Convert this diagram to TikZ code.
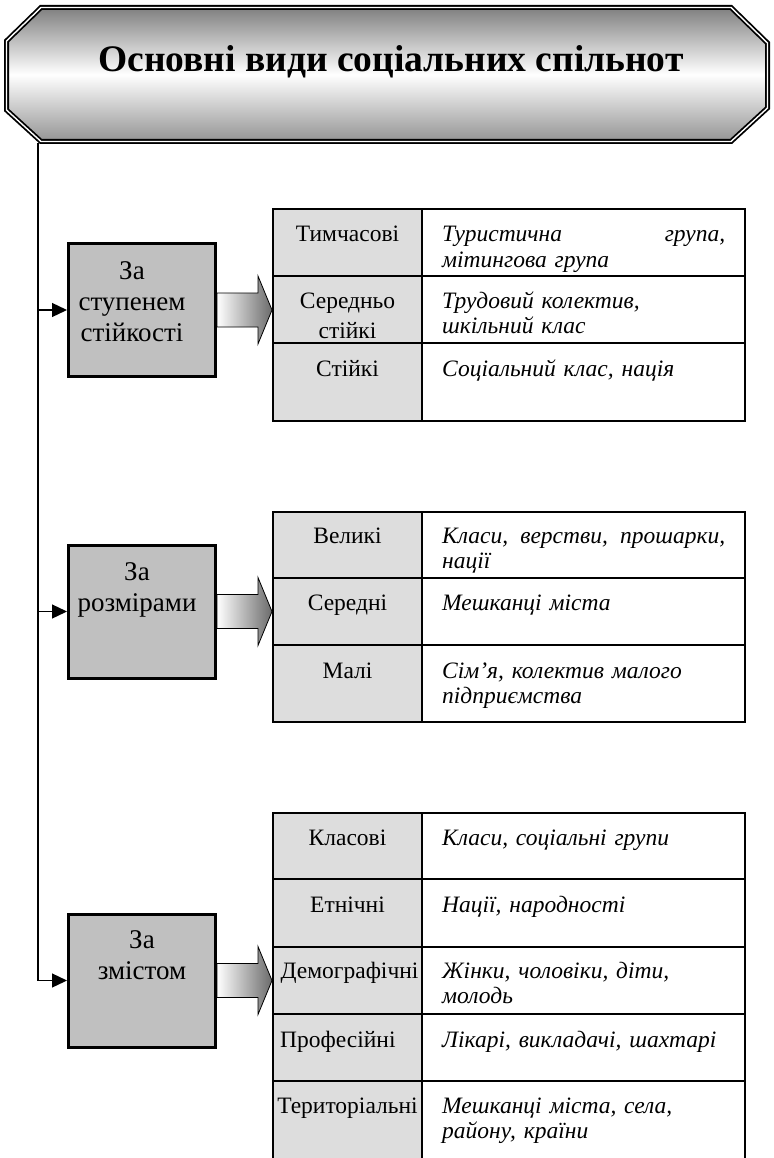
\documentclass[tikz,border=0pt]{standalone}
\usepackage{fontspec}
\setmainfont{Liberation Serif}
\usetikzlibrary{arrows.meta, calc, positioning}

\definecolor{boxgray}{HTML}{C0C0C0}
\definecolor{cellgray}{HTML}{DDDDDD}

\tikzset{
  banner/.style={line width=1.8pt, double=white, double distance=1.4pt,
                 top color=black!50, bottom color=black!42, middle color=white},
  critbox/.style={draw, line width=3pt, fill=boxgray, minimum width=147pt,
                  minimum height=133pt, inner sep=0pt},
  crittext/.style={font=\fontsize{27}{31}\selectfont, text width=150pt, align=center,
                   anchor=base, inner sep=0pt},
  catcell/.style={draw, line width=1.6pt, fill=cellgray, minimum width=149pt,
                  inner sep=0pt, outer sep=0pt},
  desccell/.style={draw, line width=1.6pt, minimum width=323pt,
                   inner sep=0pt, outer sep=0pt},
  cattext/.style={font=\fontsize{23.5}{26}\selectfont, text width=149pt, align=center,
                  anchor=base, inner sep=0pt},
  desctext/.style={font=\fontsize{23.5}{25.5}\selectfont\itshape,
                   text width=283pt, align=left, anchor=base west, inner sep=0pt},
  feed/.style={line width=1.3pt, -{Triangle[length=15pt,width=14pt]}},
  blockarrow/.style={draw, line width=0.8pt, left color=white, right color=black!58}
}

\begin{document}
\begin{tikzpicture}[x=1pt, y=-1pt]
\useasboundingbox (0,0) rectangle (773,1158);

% heading
\draw[banner] (41,7.5) -- (731,7.5) -- (767.5,43) -- (767.5,108) -- (731,141.5)
  -- (41,141.5) -- (6.5,110) -- (6.5,41) -- cycle;
\node[font=\fontsize{37.5}{44}\selectfont\bfseries, anchor=base] (title) at (391,72)
  {Основні види соціальних спільнот};
\coordinate (trunk) at (38,143.5);

% criteria
\node[critbox] (st) at (142,310) {};
\node[critbox] (rz) at (142,611.5) {};
\node[critbox] (zm) at (142,980.5) {};
\node[crittext] (stl) at ($(st.north)+(-10,37)$) {За\\ступенем\\стійкості};
\node[crittext] (rzl) at ($(rz.north)+(-5,37)$) {За\\розмірами};
\node[crittext] (zml) at ($(zm.north)+(0,36)$) {За\\змістом};

\draw[feed] (trunk) |- (zm.west);
\draw[feed] (trunk |- st.west) -- (st.west);
\draw[feed] (trunk |- rz.west) -- (rz.west);

% table: stability
\node[catcell, minimum height=67pt, anchor=north west] (st1) at (273,209) {};
\node[desccell, minimum height=67pt, right=0pt of st1] (st1d) {};
\node[catcell, minimum height=67pt, below=0pt of st1] (st2) {};
\node[desccell, minimum height=67pt, right=0pt of st2] (st2d) {};
\node[catcell, minimum height=78pt, below=0pt of st2] (st3) {};
\node[desccell, minimum height=78pt, right=0pt of st3] (st3d) {};

\node[cattext] (st1l) at ($(st1.north)+(0,33)$) {Тимчасові};
\node[cattext] (st2l) at ($(st2.north)+(0,32)$) {Середньо\\[4pt]стійкі};
\node[cattext] (st3l) at ($(st3.north)+(0,33)$) {Стійкі};
\node[desctext] (st1t) at ($(st1d.north west)+(20,33)$) {Туристична\hfill група,\\мітингова група};
\node[desctext] (st2t) at ($(st2d.north west)+(20,32)$) {Трудовий колектив,\\шкільний клас};
\node[desctext] (st3t) at ($(st3d.north west)+(20,33)$) {Соціальний клас, нація};

% table: size
\node[catcell, minimum height=66pt, anchor=north west] (rz1) at (273,512) {};
\node[desccell, minimum height=66pt, right=0pt of rz1] (rz1d) {};
\node[catcell, minimum height=67pt, below=0pt of rz1] (rz2) {};
\node[desccell, minimum height=67pt, right=0pt of rz2] (rz2d) {};
\node[catcell, minimum height=77pt, below=0pt of rz2] (rz3) {};
\node[desccell, minimum height=77pt, right=0pt of rz3] (rz3d) {};

\node[cattext] (rz1l) at ($(rz1.north)+(0,31)$) {Великі};
\node[cattext] (rz2l) at ($(rz2.north)+(0,32)$) {Середні};
\node[cattext] (rz3l) at ($(rz3.north)+(0,33)$) {Малі};
\node[desctext] (rz1t) at ($(rz1d.north west)+(20,31)$) {Класи,\hfill верстви,\hfill прошарки,\\нації};
\node[desctext] (rz2t) at ($(rz2d.north west)+(20,32)$) {Мешканці міста};
\node[desctext] (rz3t) at ($(rz3d.north west)+(20,33)$) {Сім’я, колектив малого\\підприємства};

% table: content
\node[catcell, minimum height=66pt, anchor=north west] (zm1) at (273,813) {};
\node[desccell, minimum height=66pt, right=0pt of zm1] (zm1d) {};
\node[catcell, minimum height=68pt, below=0pt of zm1] (zm2) {};
\node[desccell, minimum height=68pt, right=0pt of zm2] (zm2d) {};
\node[catcell, minimum height=67pt, below=0pt of zm2] (zm3) {};
\node[desccell, minimum height=67pt, right=0pt of zm3] (zm3d) {};
\node[catcell, minimum height=67pt, below=0pt of zm3] (zm4) {};
\node[desccell, minimum height=67pt, right=0pt of zm4] (zm4d) {};
\node[catcell, minimum height=95pt, below=0pt of zm4] (zm5) {};
\node[desccell, minimum height=95pt, right=0pt of zm5] (zm5d) {};

\node[cattext] (zm1l) at ($(zm1.north)+(0,32)$) {Класові};
\node[cattext] (zm2l) at ($(zm2.north)+(0,33)$) {Етнічні};
\node[cattext] (zm3l) at ($(zm3.north)+(2,31)$) {Демографічні};
\node[cattext, align=left, anchor=base west] (zm4l) at ($(zm4.north west)+(7,33)$) {Професійні};
\node[cattext] (zm5l) at ($(zm5.north)+(0,32)$) {Територіальні};
\node[desctext] (zm1t) at ($(zm1d.north west)+(20,32)$) {Класи, соціальні групи};
\node[desctext] (zm2t) at ($(zm2d.north west)+(20,33)$) {Нації, народності};
\node[desctext] (zm3t) at ($(zm3d.north west)+(20,31)$) {Жінки, чоловіки, діти,\\молодь};
\node[desctext] (zm4t) at ($(zm4d.north west)+(20,33)$) {Лікарі, викладачі, шахтарі};
\node[desctext] (zm5t) at ($(zm5d.north west)+(20,32)$) {Мешканці міста, села,\\району, країни};

% block arrows into the tables
\foreach \b in {st,rz,zm}
  \draw[blockarrow] ($(\b.east)+(0,-17)$) -- ++(41,0) -- ++(0,-17)
    -- ($(\b.east)+(55,0)$) -- ($(\b.east)+(41,34)$) -- ++(0,-17)
    -- ($(\b.east)+(0,17)$) -- cycle;
\end{tikzpicture}
\end{document}
